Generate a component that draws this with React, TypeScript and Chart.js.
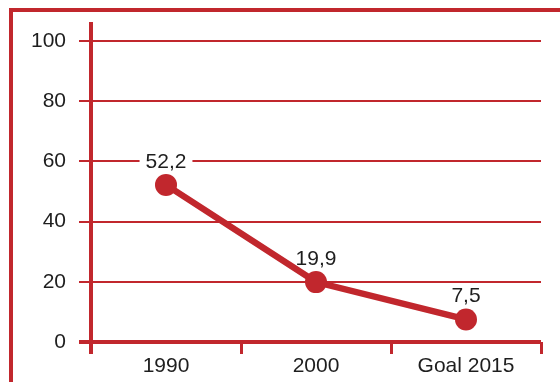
import React, { useEffect, useRef } from "react";
import { Chart, registerables } from "chart.js";

Chart.register(...registerables);

const categories = ["1990", "2000", "Goal 2015"];
const values = [52.2, 19.9, 7.5];
const valueLabels = ["52,2", "19,9", "7,5"];
const yTicks = [0, 20, 40, 60, 80, 100];

const RED = "#c1272d";
const TEXT = "#1e1e1e";
const FONT = "'Liberation Sans', Arial, sans-serif";
const FONT_SIZE = 21;

// Outer frame: red rule along the top and the left edge
const framePlugin = {
  id: "frame",
  beforeDraw(chart: any) {
    const { ctx, width, height } = chart;
    ctx.save();
    ctx.fillStyle = RED;
    ctx.fillRect(9, 8, width - 9, 4);
    ctx.fillRect(9, 8, 4, height - 8);
    ctx.restore();
  },
};

// Vertical axis rule, extending a little past the plot area
const axisRulePlugin = {
  id: "axisRule",
  afterDraw(chart: any) {
    const { ctx, chartArea } = chart;
    ctx.save();
    ctx.fillStyle = RED;
    ctx.fillRect(chartArea.left - 2, chartArea.top - 19, 4, chartArea.bottom - chartArea.top + 31);
    ctx.restore();
  },
};

const labelY = (pt: any) => pt.y - 24;

// Value labels above each point; a white backing interrupts the grid lines
const valueLabelPlugin = {
  id: "valueLabels",
  beforeDatasetsDraw(chart: any) {
    const { ctx } = chart;
    const meta = chart.getDatasetMeta(0);
    ctx.save();
    ctx.font = `${FONT_SIZE}px ${FONT}`;
    meta.data.forEach((pt: any, i: number) => {
      const w = ctx.measureText(valueLabels[i]).width + 12;
      const y = labelY(pt);
      ctx.fillStyle = "#ffffff";
      ctx.fillRect(pt.x - w / 2, y - 10, w, 20);
    });
    ctx.restore();
  },
  afterDatasetsDraw(chart: any) {
    const { ctx } = chart;
    const meta = chart.getDatasetMeta(0);
    ctx.save();
    ctx.font = `${FONT_SIZE}px ${FONT}`;
    ctx.textAlign = "center";
    ctx.textBaseline = "middle";
    ctx.fillStyle = TEXT;
    meta.data.forEach((pt: any, i: number) => {
      ctx.fillText(valueLabels[i], pt.x, labelY(pt) + 1);
    });
    ctx.restore();
  },
};

function LineChart() {
  const ref = useRef<HTMLCanvasElement | null>(null);

  useEffect(() => {
    if (!ref.current) return;
    const chart = new Chart(ref.current, {
      type: "line",
      data: {
        labels: categories,
        datasets: [
          {
            data: values,
            borderColor: RED,
            backgroundColor: RED,
            borderWidth: 6.5,
            pointRadius: 11,
            pointHoverRadius: 11,
            pointBackgroundColor: RED,
            pointBorderWidth: 0,
            tension: 0,
            fill: false,
          },
        ],
      },
      options: {
        responsive: false,
        animation: false,
        events: [],
        layout: { padding: { left: 0, right: 19, top: 41, bottom: 0 } },
        plugins: {
          legend: { display: false },
          tooltip: { enabled: false },
        },
        scales: {
          x: {
            type: "category",
            offset: true,
            afterFit(scale: any) {
              scale.height = 40;
            },
            border: { display: false },
            grid: {
              offset: true,
              drawOnChartArea: false,
              drawTicks: true,
              tickLength: 12,
              lineWidth: 3,
              color: RED,
            },
            ticks: {
              color: TEXT,
              font: { family: FONT, size: FONT_SIZE },
              padding: 0,
              maxRotation: 0,
            },
          },
          y: {
            min: 0,
            max: 100,
            afterFit(scale: any) {
              scale.width = 91;
            },
            afterBuildTicks(scale: any) {
              scale.ticks = yTicks.map((v) => ({ value: v }));
            },
            border: { display: false },
            grid: {
              color: RED,
              lineWidth: (c: any) => (c.tick && c.tick.value === 0 ? 4 : 2),
              drawTicks: true,
              tickLength: 12,
            },
            ticks: {
              color: TEXT,
              font: { family: FONT, size: FONT_SIZE },
              padding: 13,
            },
          },
        },
      },
      plugins: [framePlugin, axisRulePlugin, valueLabelPlugin],
    });
    return () => chart.destroy();
  }, []);

  return <canvas ref={ref} width={560} height={382} style={{ display: "block" }} />;
}

export default function App() {
  return (
    <div style={{ position: "fixed", left: 0, top: 0, width: 560, height: 382, background: "#ffffff" }}>
      <LineChart />
    </div>
  );
}
